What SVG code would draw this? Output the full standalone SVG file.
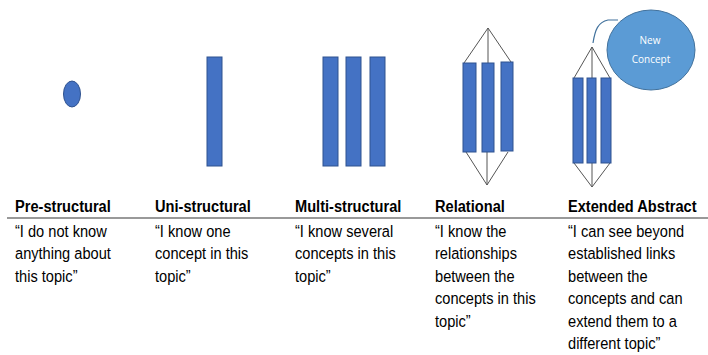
<svg xmlns="http://www.w3.org/2000/svg" width="708" height="355" viewBox="0 0 708 355">
<style>
.bar{fill:#4472C4;stroke:#2F528F;stroke-width:1}
.ln{stroke:#555;stroke-width:1;fill:none}
.hd{font-family:"Liberation Sans",Arial,sans-serif;font-size:17px;font-weight:bold;fill:#000}
.tx{font-family:"Liberation Sans",Arial,sans-serif;font-size:17px;fill:#000}
.nc{font-family:"Open Sans","Liberation Sans",sans-serif;font-size:10px;fill:#fff;text-anchor:middle}
</style>
<rect width="708" height="355" fill="#fff"/>
<g id="pre-structural">
<ellipse cx="72" cy="94" rx="8.5" ry="13" class="bar"/>
</g>
<g id="uni-structural">
<rect x="207" y="57" width="15" height="109" class="bar"/>
</g>
<g id="multi-structural">
<rect x="323" y="57" width="15" height="109" class="bar"/>
<rect x="346" y="57" width="15" height="109" class="bar"/>
<rect x="370" y="57" width="15" height="109" class="bar"/>
</g>
<g id="connectors">
<path class="ln" d="M488 28 L464 63 M488 28 L488 63 M488 28 L511 62 M466 152 L487 185 M487 152 L487 185 M508 152 L487 185"/>
<path class="ln" d="M592 47 L574 78 M592 47 L592 78 M592 47 L610 78 M574 163 L592 187 M592 163 L592 187 M610 163 L592 187"/>
<path d="M593 43 C595 30 598 22 608 20 L618 20" fill="none" stroke="#41719C" stroke-width="1.2"/>
</g>
<g id="relational">
<rect x="463" y="63" width="13" height="89" class="bar"/>
<rect x="482" y="63" width="12" height="89" class="bar"/>
<rect x="501" y="62" width="12" height="89" class="bar"/>
</g>
<g id="extended-abstract">
<rect x="573" y="78" width="10" height="85" class="bar"/>
<rect x="587" y="78" width="9" height="85" class="bar"/>
<rect x="601" y="78" width="10" height="85" class="bar"/>
</g>
<g id="new-concept">
<ellipse cx="651" cy="50" rx="44" ry="40" fill="#5B9BD5" stroke="#41719C" stroke-width="1"/>
<text x="650" y="44" class="nc">New</text>
<text x="651" y="63" class="nc">Concept</text>
</g>
<line x1="7" y1="218" x2="708" y2="218" stroke="#777" stroke-width="1.5"/>
<g id="labels-pre" transform="translate(15,0) scale(0.86,1)">
<text x="0" y="212" class="hd">Pre-structural</text>
<text class="tx"><tspan x="0" y="237">“I do not know</tspan><tspan x="0" y="259.5">anything about</tspan><tspan x="0" y="282">this topic”</tspan></text>
</g>
<g id="labels-uni" transform="translate(155,0) scale(0.86,1)">
<text x="0" y="212" class="hd">Uni-structural</text>
<text class="tx"><tspan x="0" y="237">“I know one</tspan><tspan x="0" y="259.5">concept in this</tspan><tspan x="0" y="282">topic”</tspan></text>
</g>
<g id="labels-multi" transform="translate(295,0) scale(0.86,1)">
<text x="0" y="212" class="hd">Multi-structural</text>
<text class="tx"><tspan x="0" y="237">“I know several</tspan><tspan x="0" y="259.5">concepts in this</tspan><tspan x="0" y="282">topic”</tspan></text>
</g>
<g id="labels-relational" transform="translate(435,0) scale(0.86,1)">
<text x="0" y="212" class="hd">Relational</text>
<text class="tx"><tspan x="0" y="237">“I know the</tspan><tspan x="0" y="259.5">relationships</tspan><tspan x="0" y="282">between the</tspan><tspan x="0" y="304.5">concepts in this</tspan><tspan x="0" y="327">topic”</tspan></text>
</g>
<g id="labels-extended" transform="translate(568,0) scale(0.86,1)">
<text x="0" y="212" class="hd">Extended Abstract</text>
<text class="tx"><tspan x="0" y="237">“I can see beyond</tspan><tspan x="0" y="259.5">established links</tspan><tspan x="0" y="282">between the</tspan><tspan x="0" y="304.5">concepts and can</tspan><tspan x="0" y="327">extend them to a</tspan><tspan x="0" y="349">different topic”</tspan></text>
</g>
</svg>
